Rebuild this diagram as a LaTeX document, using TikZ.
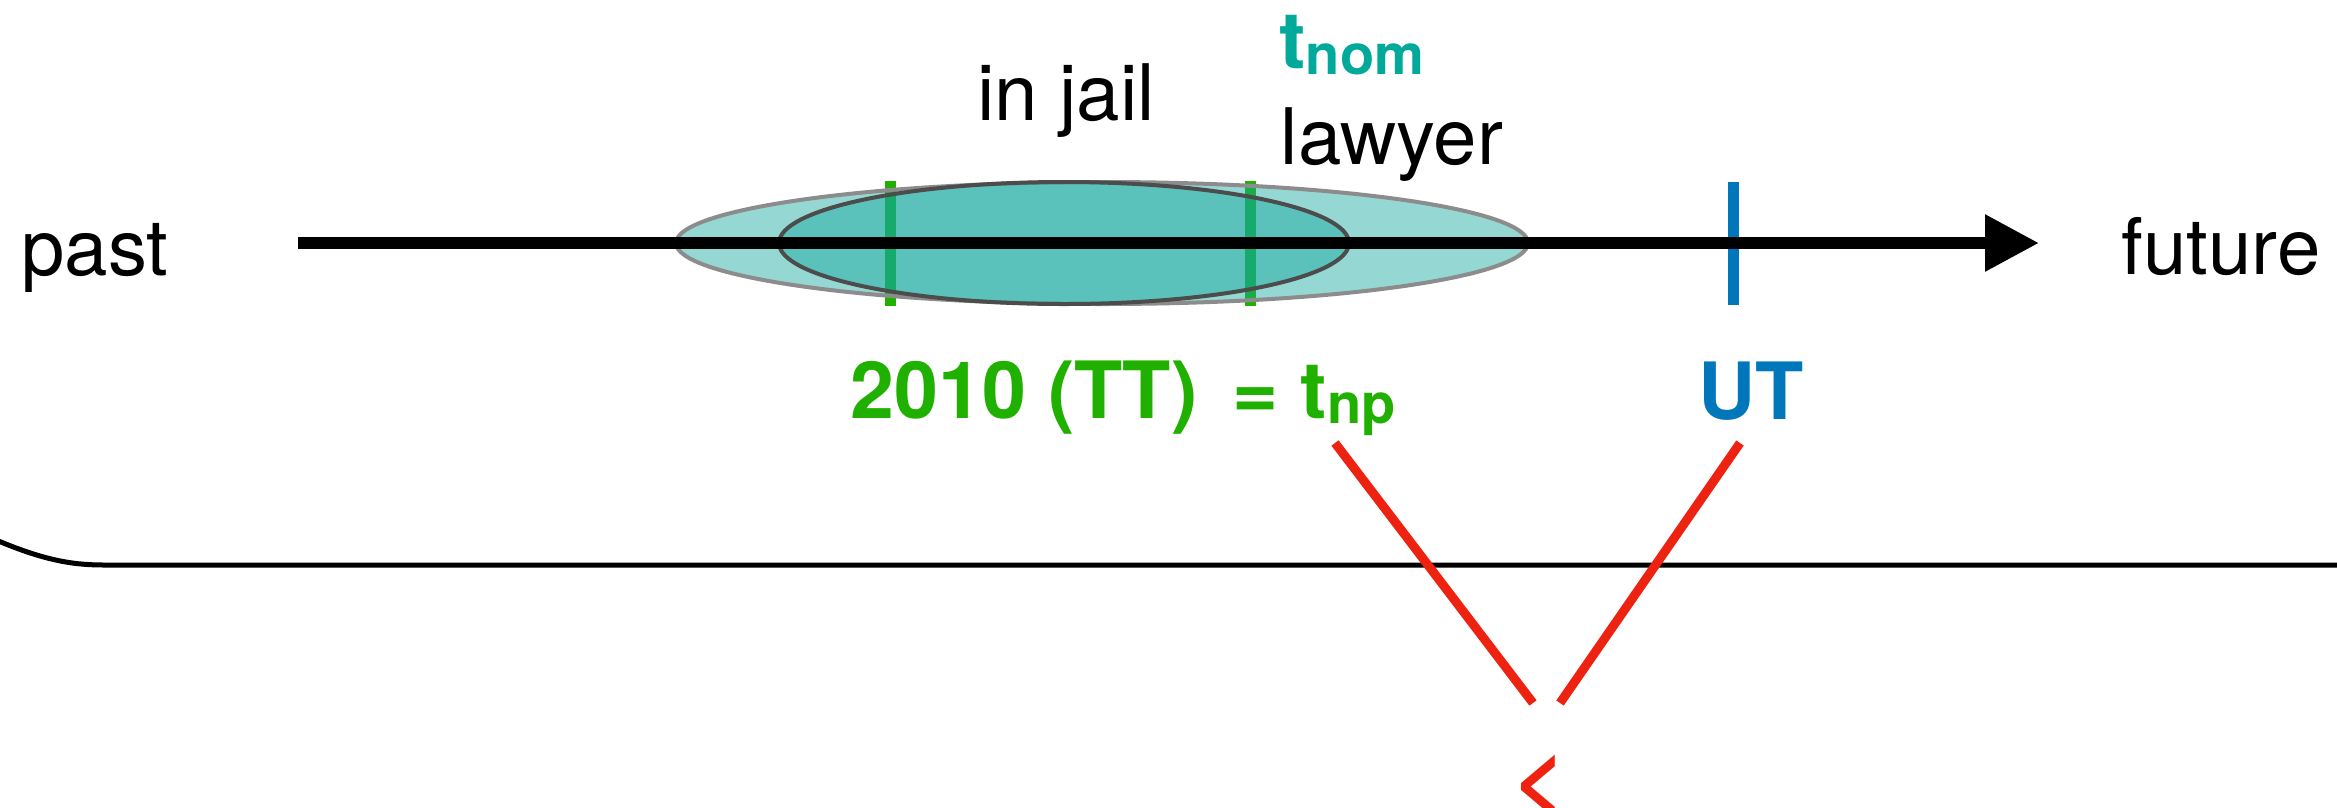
\documentclass[tikz,border=0pt]{standalone}
\usepackage{fontspec}
\setmainfont{TeX Gyre Heros}
\usetikzlibrary{arrows.meta}
\definecolor{tgreen}{HTML}{20B000}
\definecolor{tblue}{HTML}{0077BB}
\definecolor{tteal}{HTML}{00A99A}
\definecolor{tred}{HTML}{EE2211}
\definecolor{efill}{HTML}{14A89D}
\newcommand\lowsub[2]{\raisebox{-#1}{\fontsize{16.8pt}{18pt}\selectfont #2}}
\begin{document}
\begin{tikzpicture}[x=0.3pt,y=-0.3pt,
  lbl/.style={inner sep=0pt, font=\fontsize{23.4pt}{28pt}\selectfont},
  bld/.style={inner sep=0pt, font=\fontsize{23.7pt}{28pt}\selectfont\bfseries},
  ticky/.style={line width=3.3pt},
  ell/.style={fill=efill, fill opacity=0.45, line width=1.2pt},
  redline/.style={tred, line width=2.7pt},
  axis/.style={line width=3.6pt, -{Triangle[length=16.2pt,width=16.2pt]}}]
\useasboundingbox (0,0) rectangle (2337,807);

% ticks under the ellipses
\draw[ticky, tgreen] (890,181) -- (890,306);
\draw[ticky, tgreen] (1250,181) -- (1250,306);

% ellipses
\path[ell, draw=black!45] (1102,243) ellipse [x radius=127.8pt, y radius=18.3pt];
\path[ell, draw=black!70] (1064,243) ellipse [x radius=85.5pt, y radius=18.3pt];

% blue tick
\draw[ticky, tblue] (1733,182) -- (1733,305);

% time axis
\coordinate (ax0) at (298,243);
\coordinate (ax1) at (2039,243);
\draw[axis] (ax0) -- (ax1);

% labels
\node[lbl, anchor=base] (past) at (95,275) {past};
\node[lbl, anchor=base] (future) at (2221,274) {future};
\node[lbl, anchor=base] (jail) at (1066,120) {in jail};
\node[lbl, anchor=base] (lawyer) at (1392,164) {lawyer};
\node[bld, anchor=base west, text=tteal] (tnom) at (1279,68) {t\lowsub{1.8pt}{nom}};
\node[bld, anchor=base west, text=tgreen] (tt) at (850,418) {2010 (TT)\hspace{4pt} = t\lowsub{1.5pt}{np}};
\node[bld, anchor=base, text=tblue] (ut) at (1751,419) {UT};
\node[inner sep=0pt, font=\fontsize{27pt}{30pt}\selectfont\bfseries, text=tred, anchor=base] (lt) at (1540,809) {<};

% bottom line
\coordinate (bl0) at (-20,533);
\coordinate (bl1) at (2345,565);
\draw[line width=1.5pt] (bl0) .. controls (40,560) and (70,565) .. (105,565) -- (bl1);

% red connectors
\coordinate (r1a) at (1335,443);
\coordinate (r1b) at (1533,703);
\coordinate (r2a) at (1740,443);
\coordinate (r2b) at (1560,703);
\draw[redline] (r1a) -- (r1b);
\draw[redline] (r2a) -- (r2b);
\end{tikzpicture}
\end{document}
